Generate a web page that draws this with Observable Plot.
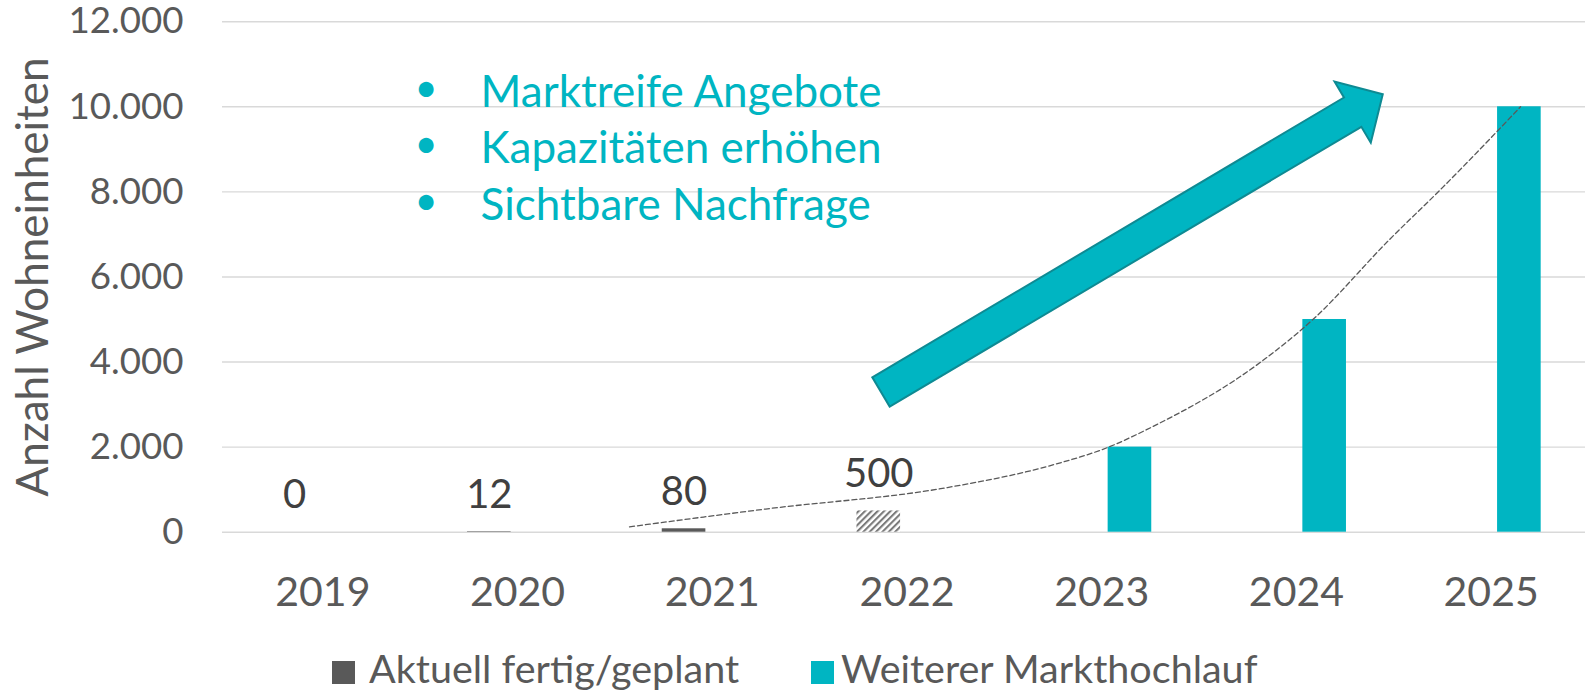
<!DOCTYPE html>
<html>
<head>
<meta charset="utf-8">
<script src="https://cdn.jsdelivr.net/npm/d3@7"></script>
<script src="https://cdn.jsdelivr.net/npm/@observablehq/plot@0.6"></script>
<style>
  html, body { margin: 0; padding: 0; background: #fff; }
  #chart { position: relative; width: 1585px; height: 694px; overflow: hidden; font-family: Lato, sans-serif; }
  #chart svg { display: block; }
  .legend { position: absolute; top: 630px; left: 0; width: 1585px; height: 64px; }
  .legend .sw { position: absolute; top: 31px; width: 23px; height: 23px; }
  .legend .lt { position: absolute; top: 18px; font-size: 39.5px; line-height: 1; color: #595959; white-space: nowrap; }
</style>
</head>
<body>
<div id="chart"></div>
<script>
// ---- data ----
const years = [2019, 2020, 2021, 2022, 2023, 2024, 2025];
const actualValues = [0, 12, 80, 500, null, null, null];
const actualStatus = ["fertig", "fertig", "fertig", "geplant", null, null, null];
const rampValues = [null, null, null, null, 2000, 5000, 10000];
const yTicks = [0, 2000, 4000, 6000, 8000, 10000, 12000];
const seriesNames = ["Aktuell fertig/geplant", "Weiterer Markthochlauf"];
const seriesColors = ["#595959", "#00B5C2"];
const yLabel = "Anzahl Wohneinheiten";
// dashed trend curve
const trendYears  = [2020.575, 2021.284, 2022.208, 2022.737, 2023.035, 2023.256, 2023.816, 2024.083, 2024.473, 2024.750, 2025.151];
const trendValues = [126, 550, 1050, 1567, 2000, 2468, 3996, 4992, 6856, 8100, 10000];
// annotation
const bulletLines = ["Marktreife Angebote", "Kapazitäten erhöhen", "Sichtbare Nachfrage"];
const bulletAnchor = [2019.81, 10950];
const bulletDotX = 2019.53;
const arrowFrom = [2021.869, 3284];
const arrowTo = [2024.446, 10282];

const actual = years.map((year, i) => ({year, value: actualValues[i], status: actualStatus[i]})).filter(d => d.value != null);
const ramp = years.map((year, i) => ({year, value: rampValues[i]})).filter(d => d.value != null);

const de = d3.formatLocale({decimal: ",", thousands: ".", grouping: [3], currency: ["", "€"]});
const fmt = de.format(",");

const teal = seriesColors[1];
const gray = seriesColors[0];

function defs() {
  const d = d3.create("svg:defs");
  const p = d.append("pattern")
    .attr("id", "hatch")
    .attr("patternUnits", "userSpaceOnUse")
    .attr("width", 4.5).attr("height", 4.5)
    .attr("patternTransform", "rotate(45)");
  p.append("rect").attr("width", 4.5).attr("height", 4.5).attr("fill", "#fff");
  p.append("line").attr("x1", 1).attr("x2", 1).attr("y1", 0).attr("y2", 4.5)
    .attr("stroke", "#7a7a7a").attr("stroke-width", 2.2);
  return d.node();
}

function blockArrow(index, scales) {
  const x0 = scales.x(arrowFrom[0]), y0 = scales.y(arrowFrom[1]);
  const x1 = scales.x(arrowTo[0]), y1 = scales.y(arrowTo[1]);
  const len = Math.hypot(x1 - x0, y1 - y0);
  const ux = (x1 - x0) / len, uy = (y1 - y0) / len;
  const nx = -uy, ny = ux;
  const hw = 17, hh = 35.5, hl = 35;
  const bx = x1 - ux * hl, by = y1 - uy * hl;
  const pts = [
    [x0 + nx * hw, y0 + ny * hw],
    [bx + nx * hw, by + ny * hw],
    [bx + nx * hh, by + ny * hh],
    [x1, y1],
    [bx - nx * hh, by - ny * hh],
    [bx - nx * hw, by - ny * hw],
    [x0 - nx * hw, y0 - ny * hw]
  ];
  const g = d3.create("svg:polygon")
    .attr("points", pts.map(p => p.join(",")).join(" "))
    .attr("fill", teal)
    .attr("stroke", "#0E8A93")
    .attr("stroke-width", 2)
    .attr("stroke-linejoin", "miter");
  return g.node();
}

const grayLeft = 0.257, grayRight = 0.033;

const plot = Plot.plot({
  width: 1585,
  height: 630,
  marginLeft: 222,
  marginRight: 0,
  marginTop: 21.2,
  marginBottom: 630 - 531.7,
  x: {domain: [2018.5, 2025.5], range: [225, 1588]},
  y: {domain: [0, 12000], range: [531.7, 21.2]},
  style: {fontFamily: "Lato, sans-serif", color: "#595959", background: "#fff", overflow: "visible"},
  marks: [
    defs,
    Plot.gridY({ticks: yTicks, stroke: "#D9D9D9", strokeOpacity: 1, strokeWidth: 1.4}),
    Plot.axisY({ticks: yTicks, tickFormat: fmt, tickSize: 0, tickPadding: 39, fontSize: 36.7, fill: "#595959", label: null}),
    Plot.axisX({ticks: years, tickFormat: d => String(d), tickSize: 0, tickPadding: 45, fontSize: 41, fill: "#595959", label: null}),
    Plot.text([yLabel], {frameAnchor: "left", textAnchor: "middle", lineAnchor: "middle", rotate: -90, dx: -189, fontSize: 44, fill: "#595959"}),
    Plot.rectY(actual.filter(d => d.status === "fertig"), {
      x1: d => d.year - grayLeft, x2: d => d.year - grayRight, y: "value", fill: gray
    }),
    Plot.rectY(actual.filter(d => d.status === "geplant"), {
      x1: d => d.year - grayLeft, x2: d => d.year - grayRight, y: "value", fill: "url(#hatch)"
    }),
    Plot.rectY(ramp, {
      x1: d => d.year + grayRight, x2: d => d.year + grayLeft, y: "value", fill: teal
    }),
    Plot.text(actual, {
      x: d => d.year - (grayLeft + grayRight) / 2, y: "value", text: d => fmt(d.value),
      lineAnchor: "bottom", dy: -24, fontSize: 40, fill: "#404040"
    }),
    Plot.line(trendYears.map((x, i) => ({x, y: trendValues[i]})), {
      x: "x", y: "y", stroke: "#595959", strokeWidth: 1.3, strokeDasharray: "5,3", curve: "monotone-x"
    }),
    blockArrow,
    Plot.text([bulletLines.join("\n")], {
      x: () => bulletAnchor[0], y: () => bulletAnchor[1], textAnchor: "start", lineAnchor: "top",
      lineHeight: 1.29, fontSize: 44, fill: teal
    }),
    Plot.text([bulletLines.map(() => "•").join("\n")], {
      x: () => bulletDotX, y: () => bulletAnchor[1], textAnchor: "middle", lineAnchor: "top",
      lineHeight: 56.8 / 40, fontSize: 40, dy: -5, fill: teal
    })
  ]
});

const chart = document.getElementById("chart");
chart.appendChild(plot);

const legend = document.createElement("div");
legend.className = "legend";
const legendLeft = [332, 811];
const legendTextLeft = [369, 841];
seriesNames.forEach((name, i) => {
  const sw = document.createElement("span");
  sw.className = "sw";
  sw.style.left = legendLeft[i] + "px";
  sw.style.background = seriesColors[i];
  const lt = document.createElement("span");
  lt.className = "lt";
  lt.style.left = legendTextLeft[i] + "px";
  lt.textContent = name;
  legend.appendChild(sw);
  legend.appendChild(lt);
});
chart.appendChild(legend);
</script>
</body>
</html>
